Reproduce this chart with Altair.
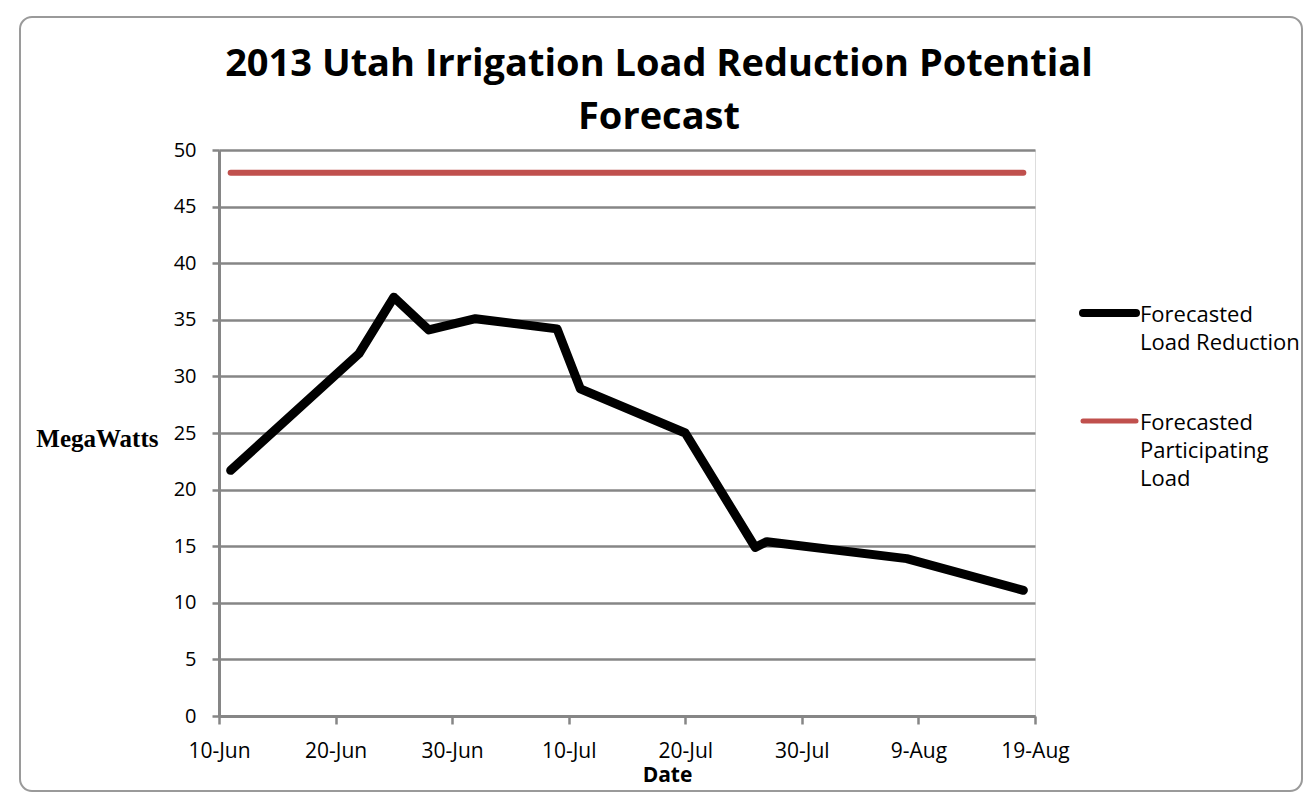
import altair as alt
import pandas as pd

# ---- data ----
reduction_dates = ["2013-06-11", "2013-06-22", "2013-06-25", "2013-06-28", "2013-07-02",
                   "2013-07-09", "2013-07-11", "2013-07-20", "2013-07-26", "2013-07-27",
                   "2013-08-08", "2013-08-18"]
reduction_mw = [21.7, 32.0, 37.0, 34.1, 35.1, 34.2, 28.9, 25.0, 14.9, 15.4, 13.9, 11.1]

participating_dates = ["2013-06-11", "2013-08-18"]
participating_mw = [48.0, 48.0]

x_tick_dates = [(2013, 6, 10), (2013, 6, 20), (2013, 6, 30), (2013, 7, 10),
                (2013, 7, 20), (2013, 7, 30), (2013, 8, 9), (2013, 8, 19)]
y_ticks = [0, 5, 10, 15, 20, 25, 30, 35, 40, 45, 50]

series_names = ["Forecasted Load Reduction", "Forecasted Participating Load"]
legend_lines = ["Forecasted\nLoad Reduction", "Forecasted\nParticipating\nLoad"]
series_colors = ["#000000", "#c0504d"]
series_widths = [9, 6]

title_text = "2013 Utah Irrigation Load Reduction Potential\nForecast"

# ---- layout ----
W, H = 816, 566
GRID = "#868686"
FONT = "Open Sans"


def dt(t):
    return alt.DateTime(year=t[0], month=t[1], date=t[2], utc=True)


df_red = pd.DataFrame({"date": reduction_dates, "mw": reduction_mw, "series": series_names[0]})
df_part = pd.DataFrame({"date": participating_dates, "mw": participating_mw, "series": series_names[1]})

x_enc = alt.X(
    "date:T",
    scale=alt.Scale(type="utc", domain=[dt(x_tick_dates[0]), dt(x_tick_dates[-1])]),
    axis=alt.Axis(
        values=[dt(t) for t in x_tick_dates],
        labelExpr="utcFormat(datum.value, '%-d-%b')",
        title="Date",
        grid=False,
        labelFont=FONT, labelFontSize=21, labelColor="#000000", labelPadding=16,
        labelFlush=False, labelOverlap=False,
        tickSize=8, tickColor=GRID, tickWidth=2.5,
        domainColor=GRID, domainWidth=3,
        titleFont=FONT, titleFontSize=21, titleFontWeight="bold", titleColor="#000000",
        titleX=448, titleY=59, titleAlign="center", titleBaseline="middle",
    ),
)
y_enc = alt.Y(
    "mw:Q",
    scale=alt.Scale(domain=[0, 50], nice=False, zero=True),
    axis=alt.Axis(
        values=y_ticks,
        title="MegaWatts",
        labelFont=FONT, labelFontSize=20, labelColor="#000000", labelPadding=16,
        tickSize=7, tickColor=GRID, tickWidth=2.5,
        domainColor=GRID, domainWidth=3,
        gridColor=GRID, gridWidth=2.5,
        titleFont="Liberation Serif", titleFontSize=25, titleFontWeight="bold",
        titleColor="#000000", titleAngle=0, titleAlign="right", titleBaseline="middle",
        titleX=-61, titleY=288,
    ),
)

part_line = alt.Chart(df_part).mark_line(
    color=series_colors[1], strokeWidth=series_widths[1], strokeCap="round"
).encode(x=x_enc, y=y_enc)

red_line = alt.Chart(df_red).mark_line(
    color=series_colors[0], strokeWidth=series_widths[0], strokeCap="round", strokeJoin="round"
).encode(x=x_enc, y=y_enc)

# ---- frame ----
frame = alt.Chart(pd.DataFrame({"k": [0]})).mark_rect(
    filled=False, stroke="#9a9a9a", strokeWidth=2, cornerRadius=12
).encode(x=alt.value(-199), x2=alt.value(1083), y=alt.value(-133), y2=alt.value(641))

# ---- title ----
title = alt.Chart(pd.DataFrame({"t": [title_text]})).mark_text(
    align="center", baseline="alphabetic", font=FONT, fontSize=38, fontWeight="bold",
    lineBreak="\n", lineHeight=53, color="#000000"
).encode(x=alt.value(440), y=alt.value(-74), text="t:N")

# ---- legend ----
legend_layers = []
legend_y = [163, 271]
for i in range(len(series_names)):
    ldf = pd.DataFrame({"label": [legend_lines[i]]})
    sym = alt.Chart(ldf).mark_rule(
        color=series_colors[i], strokeWidth=series_widths[i] - 1, strokeCap="round"
    ).encode(x=alt.value(864), x2=alt.value(917), y=alt.value(legend_y[i]))
    txt = alt.Chart(ldf).mark_text(
        align="left", baseline="top", font=FONT, fontSize=22, lineBreak="\n",
        lineHeight=28, color="#000000"
    ).encode(x=alt.value(921), y=alt.value(legend_y[i] - 8), text="label:N")
    legend_layers += [sym, txt]

chart = alt.layer(frame, title, part_line, red_line, *legend_layers).properties(
    width=W, height=H,
    autosize=alt.AutoSizeParams(type="none"),
    padding={"left": 211, "top": 142, "right": 268, "bottom": 77},
).configure_view(stroke=None).configure(background="#ffffff")

chart.save("out.html", embed_options={"renderer": "svg", "actions": False})
